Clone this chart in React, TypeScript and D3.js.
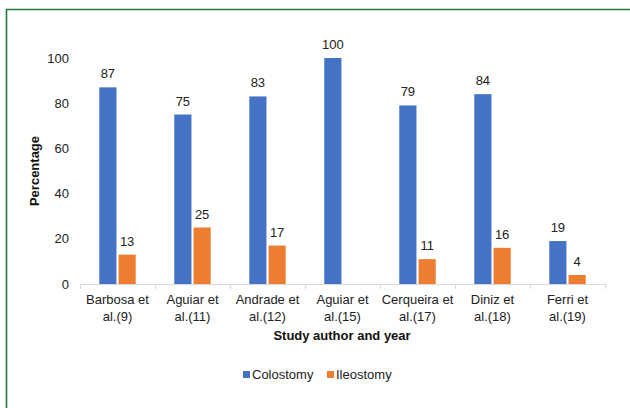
import React from "react";
import * as d3 from "d3";

const categories = [
  ["Barbosa et", "al.(9)"],
  ["Aguiar et", "al.(11)"],
  ["Andrade et", "al.(12)"],
  ["Aguiar et", "al.(15)"],
  ["Cerqueira et", "al.(17)"],
  ["Diniz et", "al.(18)"],
  ["Ferri et", "al.(19)"],
];
const colostomy: (number | null)[] = [87, 75, 83, 100, 79, 84, 19];
const ileostomy: (number | null)[] = [13, 25, 17, null, 11, 16, 4];
const yTicks = [0, 20, 40, 60, 80, 100];
const seriesNames = ["Colostomy", "Ileostomy"];
const colors = ["#4472C4", "#ED7D31"];

const W = 630;
const H = 408;
const FONT = "'Liberation Sans', Arial, sans-serif";
const FS = 13;

export default function App() {
  const x = d3
    .scaleBand<number>()
    .domain(d3.range(categories.length))
    .range([80, 605]);
  const y = d3.scaleLinear().domain([0, 100]).range([284, 58]);
  const inner = d3
    .scaleBand<number>()
    .domain([0, 1])
    .range([0, x.bandwidth()])
    .paddingInner(0.11)
    .paddingOuter(1.0);
  const series = [colostomy, ileostomy];

  return (
    <svg
      width={W}
      height={H}
      style={{ position: "fixed", left: 0, top: 0, background: "#fff" }}
      fontFamily={FONT}
    >
      <rect x={0} y={0} width={W} height={H} fill="#fff" />
      {/* frame */}
      <path d={`M6.5,${H + 5} V9.5 H${W + 5}`} fill="none" stroke="#1e7b3c" strokeWidth={1.6} />

      {/* y tick labels */}
      {yTicks.map((t) => (
        <text
          key={t}
          x={69}
          y={y(t)}
          dy="0.35em"
          textAnchor="end"
          fontSize={FS}
          fill="#222"
        >
          {t}
        </text>
      ))}
      <text
        transform={`translate(39,${(y(0) + y(100)) / 2}) rotate(-90)`}
        textAnchor="middle"
        fontSize={FS}
        fontWeight="bold"
        fill="#111"
      >
        Percentage
      </text>

      {/* bars */}
      {series.map((vals, si) =>
        vals.map((v, i) =>
          v == null ? null : (
            <g key={`${si}-${i}`}>
              <rect
                x={(x(i) ?? 0) + (inner(si) ?? 0)}
                y={y(v)}
                width={inner.bandwidth()}
                height={y(0) - y(v)}
                fill={colors[si]}
              />
              <text
                x={(x(i) ?? 0) + (inner(si) ?? 0) + inner.bandwidth() / 2}
                y={y(v) - 9}
                textAnchor="middle"
                fontSize={FS}
                fill="#222"
              >
                {v}
              </text>
            </g>
          )
        )
      )}

      {/* x axis */}
      <line x1={80} x2={605} y1={284.5} y2={284.5} stroke="#d9d9d9" strokeWidth={1} />
      {d3.range(categories.length + 1).map((i) => {
        const xx = i < categories.length ? x(i)! : x.range()[1];
        return (
          <line key={i} x1={xx + 0.5} x2={xx + 0.5} y1={284} y2={289} stroke="#d9d9d9" />
        );
      })}
      {categories.map((c, i) => (
        <text
          key={i}
          x={(x(i) ?? 0) + x.bandwidth() / 2}
          y={304}
          textAnchor="middle"
          fontSize={FS}
          fill="#222"
        >
          <tspan x={(x(i) ?? 0) + x.bandwidth() / 2} dy={0}>
            {c[0]}
          </tspan>
          <tspan x={(x(i) ?? 0) + x.bandwidth() / 2} dy={17}>
            {c[1]}
          </tspan>
        </text>
      ))}
      <text x={342} y={340} textAnchor="middle" fontSize={FS} fontWeight="bold" fill="#111">
        Study author and year
      </text>

      {/* legend */}
      {seriesNames.map((n, i) => {
        const lx = i === 0 ? 243 : 327;
        return (
          <g key={n}>
            <rect x={lx} y={371} width={7} height={7} fill={colors[i]} />
            <text x={lx + 9} y={379} fontSize={FS} fill="#222">
              {n}
            </text>
          </g>
        );
      })}
    </svg>
  );
}
